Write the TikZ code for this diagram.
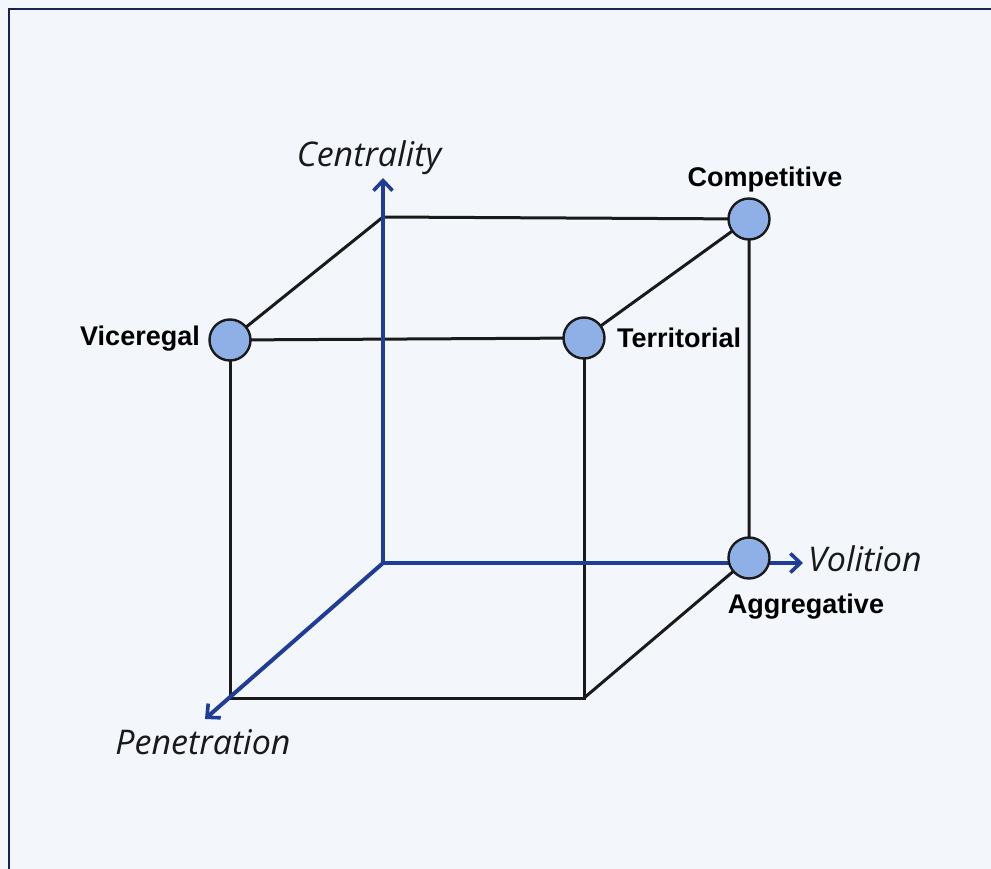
\documentclass[tikz,border=0pt]{standalone}
\usepackage{fontspec}
\setmainfont{Liberation Sans}
\newfontfamily\handfont{Open Sans}
\usetikzlibrary{arrows.meta}
\definecolor{bgcol}{HTML}{F3F6FA}
\definecolor{framecol}{HTML}{1A2350}
\definecolor{axiscol}{HTML}{1F3C96}
\definecolor{dotcol}{HTML}{8FB0E6}
\definecolor{edgecol}{HTML}{1A1A1A}
\tikzset{
  edge/.style={draw=edgecol, line width=3pt},
  axis/.style={draw=axiscol, line width=4pt, -{Straight Barb[length=10pt,width=19pt,line width=3.6pt]}},
  dot/.style={circle, draw=edgecol, line width=2.4pt, fill=dotcol, minimum size=41pt, inner sep=0pt},
  boldlabel/.style={font=\fontsize{27}{30}\selectfont\bfseries, text=black, inner sep=0pt},
  handlabel/.style={font=\handfont\itshape\fontsize{34}{38}\selectfont, text=black!90, inner sep=0pt}
}
\begin{document}
\begin{tikzpicture}[x=1pt,y=-1pt]
\useasboundingbox (0,0) rectangle (991,869);
\fill[bgcol] (0,0) rectangle (991,869);
\draw[framecol, line width=2pt] (8.5,869) -- (8.5,9.5) -- (991,9.5);
% cube vertices
\coordinate (O) at (383,563);
\coordinate (BTL) at (383,217);
\coordinate (FBL) at (230,698);
\coordinate (FBR) at (584,698);
\coordinate (Ctip) at (383,178);
\coordinate (Vtip) at (803,563);
\coordinate (Ptip) at (205,719);
\coordinate (Vp) at (230,340);
\coordinate (Tp) at (584,338);
\coordinate (Cp) at (749,219);
\coordinate (Ap) at (749,558);
% cube edges
\draw[edge] (Vp) -- (BTL) -- (Cp) -- (Tp) -- (Vp);
\draw[edge] (Vp) -- (FBL) -- (FBR) -- (Tp);
\draw[edge] (FBR) -- (Ap) -- (Cp);
% axes
\draw[axis] (O) -- (Ctip);
\draw[axis] (O) -- (Vtip);
\draw[axis] (O) -- (Ptip);
% dots
\node[dot] (V) at (Vp) {};
\node[dot] (T) at (Tp) {};
\node[dot] (C) at (Cp) {};
\node[dot] (A) at (Ap) {};
% labels
\node[boldlabel, anchor=east] (Vl) at (200,339) {Viceregal};
\node[boldlabel, anchor=west] (Tl) at (617,338) {Territorial};
\node[boldlabel] (Cl) at (765,180) {Competitive};
\node[boldlabel] (Al) at (806,607) {Aggregative};
\node[handlabel] (Cn) at (369,158) {Centrality};
\node[handlabel, anchor=west] (Vn) at (808,559) {Volition};
\node[handlabel] (Pn) at (203,742) {Penetration};
\end{tikzpicture}
\end{document}
